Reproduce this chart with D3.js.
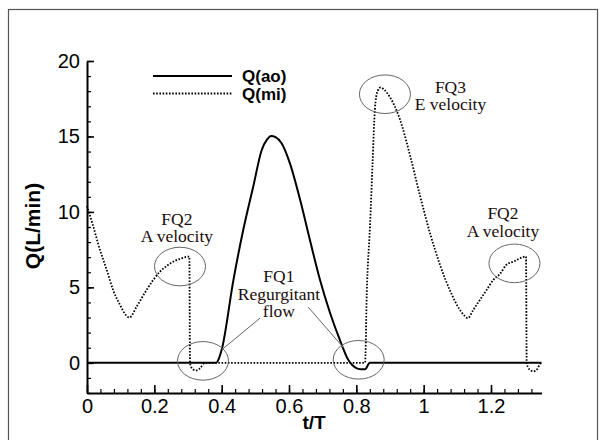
<!DOCTYPE html>
<html>
<head>
<meta charset="utf-8">
<script src="https://cdn.jsdelivr.net/npm/d3@7"></script>
<style>
  html, body { margin: 0; padding: 0; background: #fff; }
  svg { display: block; }
</style>
</head>
<body>
<svg id="chart" width="605" height="440"></svg>
<script>
// ---------------- data ----------------
const seriesNames = ["Q(ao)", "Q(mi)"];

// Aortic flow Q(ao)
const tAo = [0, 0.383, 0.392, 0.40, 0.435, 0.464, 0.494, 0.519, 0.535, 0.547, 0.56, 0.578, 0.603, 0.633, 0.662, 0.692, 0.722, 0.751, 0.776, 0.80, 0.812, 0.826, 0.84, 1.35];
const qAo = [0, 0, 0.3, 0.86, 5.5, 8.8, 11.7, 14.1, 14.8, 15.03, 14.95, 14.55, 13.2, 10.8, 8.15, 5.5, 3.3, 1.52, 0.2, -0.35, -0.42, -0.42, 0, 0];

// Mitral flow Q(mi)
const tMi = [0, 0.019, 0.0386, 0.0585, 0.078, 0.098, 0.113, 0.126, 0.1476, 0.177, 0.197, 0.217, 0.2367, 0.256, 0.276, 0.304,
             0.306, 0.309, 0.316, 0.325, 0.335, 0.35, 0.826,
             0.831, 0.8405, 0.8485, 0.855, 0.863, 0.872, 0.885, 0.90, 0.93, 0.96, 0.99, 1.02, 1.05, 1.08, 1.105, 1.12, 1.131,
             1.147, 1.167, 1.187, 1.207, 1.227, 1.246, 1.266, 1.304,
             1.306, 1.31, 1.318, 1.326, 1.336, 1.347, 1.35];
const qMi = [10.4, 9.0, 7.48, 6.16, 4.8, 3.84, 3.24, 3.0, 3.73, 4.83, 5.5, 6.05, 6.42, 6.7, 6.89, 7.04,
             0, -0.25, -0.45, -0.5, -0.38, 0, 0,
             4.6, 9.0, 13.4, 16.75, 18.0, 18.25, 18.05, 17.6, 16.1, 13.7, 11.0, 8.5, 6.4, 4.7, 3.6, 3.15, 2.96,
             3.5, 4.17, 4.83, 5.5, 5.9, 6.5, 6.7, 7.04,
             0, -0.3, -0.5, -0.57, -0.45, -0.05, 0];

// axes
const xDomain = [0, 1.35];
const yDomain = [-2, 20];
const xTicks = [0, 0.2, 0.4, 0.6, 0.8, 1, 1.2];
const xTickLabels = ["0", "0.2", "0.4", "0.6", "0.8", "1", "1.2"];
const xMinorTicks = d3.range(0, 1.35, 0.04);
const yTicks = [0, 5, 10, 15, 20];
const yTickLabels = ["0", "5", "10", "15", "20"];
const yMinorTicks = d3.range(-2, 20.5, 1);
const xTitle = "t/T";
const yTitle = "Q(L/min)";

// annotations (data coordinates)
const noteLines = [["FQ2", "A velocity"], ["FQ1", "Regurgitant", "flow"], ["FQ3", "E velocity"], ["FQ2", "A velocity"]];
const noteT = [0.267, 0.570, 1.0796, 1.2355];
const noteQ = [9.14, 5.33, 17.86, 9.5];
const ellipseT = [0.2762, 0.3445, 0.807, 0.885, 1.2697];
const ellipseQ = [6.38, 0.13, 0.2, 17.8, 6.59];
const leaderFromT = [0.5138, 0.657], leaderFromQ = [2.96, 3.69];
const leaderToT = [0.40, 0.7633], leaderToQ = [0.86, 0.97];

// ---------------- drawing ----------------
const svg = d3.select("#chart");
const x = d3.scaleLinear().domain(xDomain).range([87, 541.5]);
const y = d3.scaleLinear().domain(yDomain).range([393, 61]);

// outer frame
svg.append("rect").attr("x", 8.5).attr("y", 9.5).attr("width", 589).attr("height", 440)
  .attr("fill", "none").attr("stroke", "#555").attr("stroke-width", 1.2);

const sans = "'Liberation Sans', Arial, sans-serif";
const serif = "'Liberation Serif', 'Times New Roman', serif";

// minor ticks
svg.append("g").attr("transform", "translate(0,393)")
  .call(d3.axisBottom(x).tickValues(xMinorTicks).tickSize(-4).tickSizeOuter(0).tickFormat(""))
  .call(g => g.select(".domain").remove())
  .call(g => g.selectAll("line").attr("stroke", "#000").attr("stroke-width", 1.2));
svg.append("g").attr("transform", "translate(87,0)")
  .call(d3.axisLeft(y).tickValues(yMinorTicks).tickSize(-4).tickSizeOuter(0).tickFormat(""))
  .call(g => g.select(".domain").remove())
  .call(g => g.selectAll("line").attr("stroke", "#000").attr("stroke-width", 1.2));

// major axes
const gx = svg.append("g").attr("transform", "translate(0,393)")
  .call(d3.axisBottom(x).tickValues(xTicks).tickSize(-8).tickSizeOuter(0).tickPadding(6)
    .tickFormat((d, i) => xTickLabels[i]));
gx.select(".domain").attr("stroke", "#000").attr("stroke-width", 2);
gx.selectAll(".tick line").attr("stroke", "#000").attr("stroke-width", 1.6);
gx.selectAll("text").attr("font-family", sans).attr("font-size", 20).attr("fill", "#000");

const gy = svg.append("g").attr("transform", "translate(87,0)")
  .call(d3.axisLeft(y).tickValues(yTicks).tickSize(-7).tickSizeOuter(0).tickPadding(7)
    .tickFormat((d, i) => yTickLabels[i]));
gy.select(".domain").attr("stroke", "#000").attr("stroke-width", 2);
gy.selectAll(".tick line").attr("stroke", "#000").attr("stroke-width", 1.6);
gy.selectAll("text").attr("font-family", sans).attr("font-size", 20).attr("fill", "#000");

// axis titles
svg.append("text").attr("x", 314).attr("y", 429).attr("text-anchor", "middle")
  .attr("font-family", sans).attr("font-weight", "bold").attr("font-size", 19).text(xTitle);
svg.append("text").attr("transform", "translate(40,226) rotate(-90)").attr("text-anchor", "middle")
  .attr("font-family", sans).attr("font-weight", "bold").attr("font-size", 21).text(yTitle);

// lines
const line = d3.line().x(d => x(d[0])).y(d => y(d[1])).curve(d3.curveMonotoneX);
const miData = tMi.map((t, i) => [t, qMi[i]]);
const aoData = tAo.map((t, i) => [t, qAo[i]]);

svg.append("path").datum(miData).attr("d", line)
  .attr("fill", "none").attr("stroke", "#000").attr("stroke-width", 1.8)
  .attr("stroke-dasharray", "1.6,1.6");
svg.append("path").datum(aoData).attr("d", line)
  .attr("fill", "none").attr("stroke", "#000").attr("stroke-width", 2);

// ellipses
svg.selectAll(".ell").data(ellipseT).enter().append("ellipse")
  .attr("cx", d => x(d)).attr("cy", (d, i) => y(ellipseQ[i]))
  .attr("rx", 25.5).attr("ry", 19.3)
  .attr("fill", "none").attr("stroke", "#666").attr("stroke-width", 1);

// leader lines
svg.selectAll(".lead").data(leaderFromT).enter().append("line")
  .attr("x1", d => x(d)).attr("y1", (d, i) => y(leaderFromQ[i]))
  .attr("x2", (d, i) => x(leaderToT[i])).attr("y2", (d, i) => y(leaderToQ[i]))
  .attr("stroke", "#666").attr("stroke-width", 1);

// annotation texts
noteLines.forEach((lines, i) => {
  const t = svg.append("text").attr("text-anchor", "middle")
    .attr("font-family", serif).attr("font-size", 17.5).attr("fill", "#1a0c0c");
  lines.forEach((s, j) => {
    t.append("tspan").attr("x", x(noteT[i])).attr("y", y(noteQ[i]) + j * 17.2).text(s);
  });
});

// legend
const lg = svg.append("g");
lg.append("line").attr("x1", 153).attr("x2", 232).attr("y1", 76).attr("y2", 76)
  .attr("stroke", "#000").attr("stroke-width", 2);
lg.append("line").attr("x1", 153).attr("x2", 232).attr("y1", 93.5).attr("y2", 93.5)
  .attr("stroke", "#000").attr("stroke-width", 1.8).attr("stroke-dasharray", "1.6,1.6");
lg.selectAll("text").data(seriesNames).enter().append("text")
  .attr("x", 242).attr("y", (d, i) => 82 + i * 17.5)
  .attr("font-family", sans).attr("font-weight", "bold").attr("font-size", 17).text(d => d);
</script>
</body>
</html>
